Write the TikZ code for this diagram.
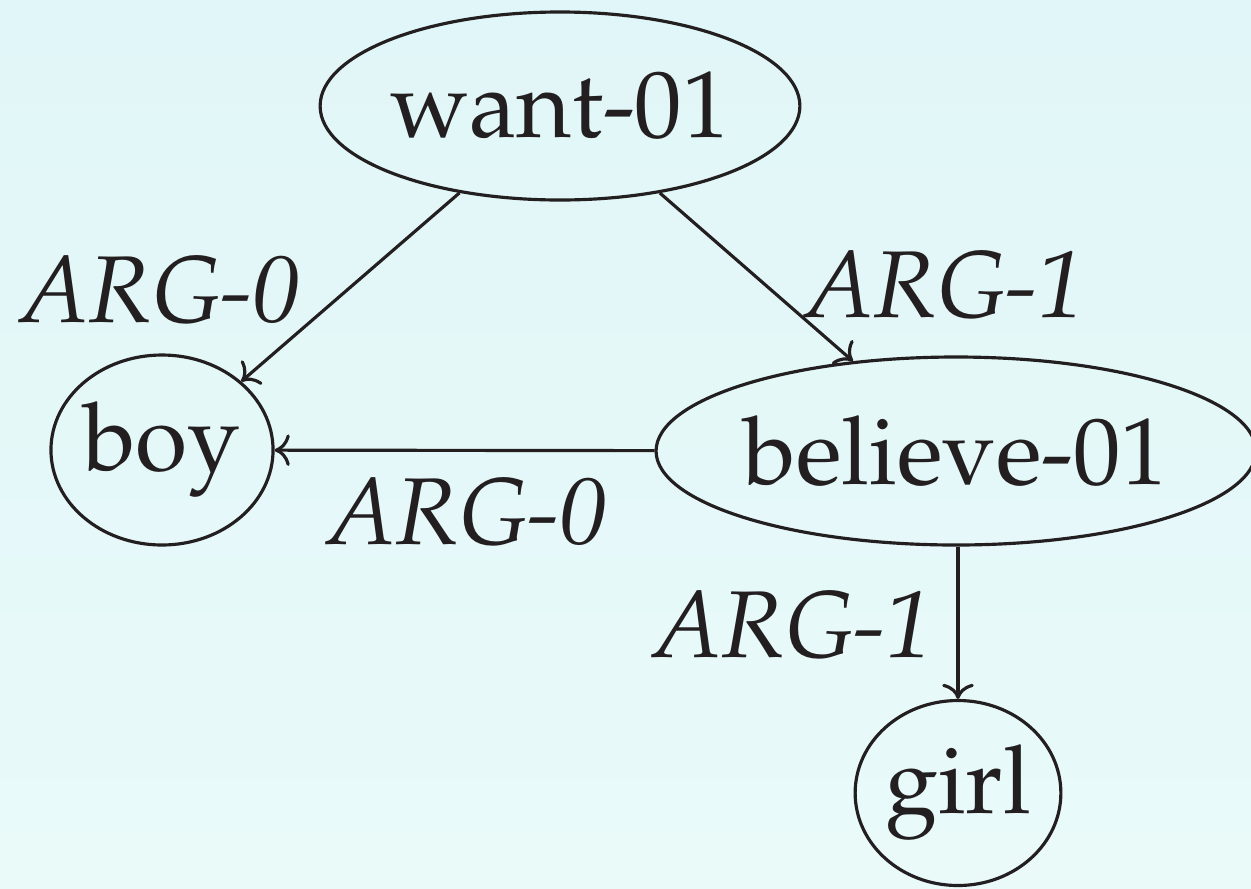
\documentclass[tikz,border=0pt]{standalone}
\usepackage[T1]{fontenc}
\usepackage{mathpazo}
\usepackage{xcolor}
\usetikzlibrary{shapes.geometric,arrows.meta}

\definecolor{bgtop}{HTML}{E1F6F8}
\definecolor{bgbot}{HTML}{E9FAF9}
\definecolor{ink}{HTML}{231F20}

\begin{document}
\begin{tikzpicture}[
    concept/.style={draw=ink, ellipse, line width=0.9pt, inner sep=0pt,
                    text=ink, font=\fontsize{27}{32}\selectfont},
    role/.style={text=ink, font=\fontsize{27}{32}\selectfont\itshape},
    rel/.style={-{To[length=4.3pt,width=9pt]}, draw=ink, line width=0.9pt}
]
% Background
\fill[top color=bgtop, bottom color=bgbot] (0,0) rectangle (12.51,8.88);
\useasboundingbox (0,0) rectangle (12.51,8.88);

% Concepts
\node[concept, minimum width=4.74cm, minimum height=1.88cm] (want) at (5.60,7.82) {want-01};
\node[concept, minimum width=2.18cm, minimum height=1.90cm] (boy) at (1.62,4.38) {boy};
\node[concept, minimum width=5.85cm, minimum height=1.88cm] (believe) at (9.56,4.37) {believe-01};
\node[concept, minimum width=2.03cm, minimum height=1.85cm] (girl) at (9.58,0.95) {girl};

% Relations
\draw[rel] (want) -- (boy);
\draw[rel] (want) -- (believe);
\draw[rel] (believe) -- (boy);
\draw[rel] (believe.south -| girl.north) -- (girl);

% Labels
\node[role] (l1) at (1.60,5.98) {ARG-0};
\node[role] (l2) at (9.45,6.03) {ARG-1};
\node[role] (l3) at (4.67,3.76) {ARG-0};
\node[role] (l4) at (7.93,2.63) {ARG-1};
\end{tikzpicture}
\end{document}
